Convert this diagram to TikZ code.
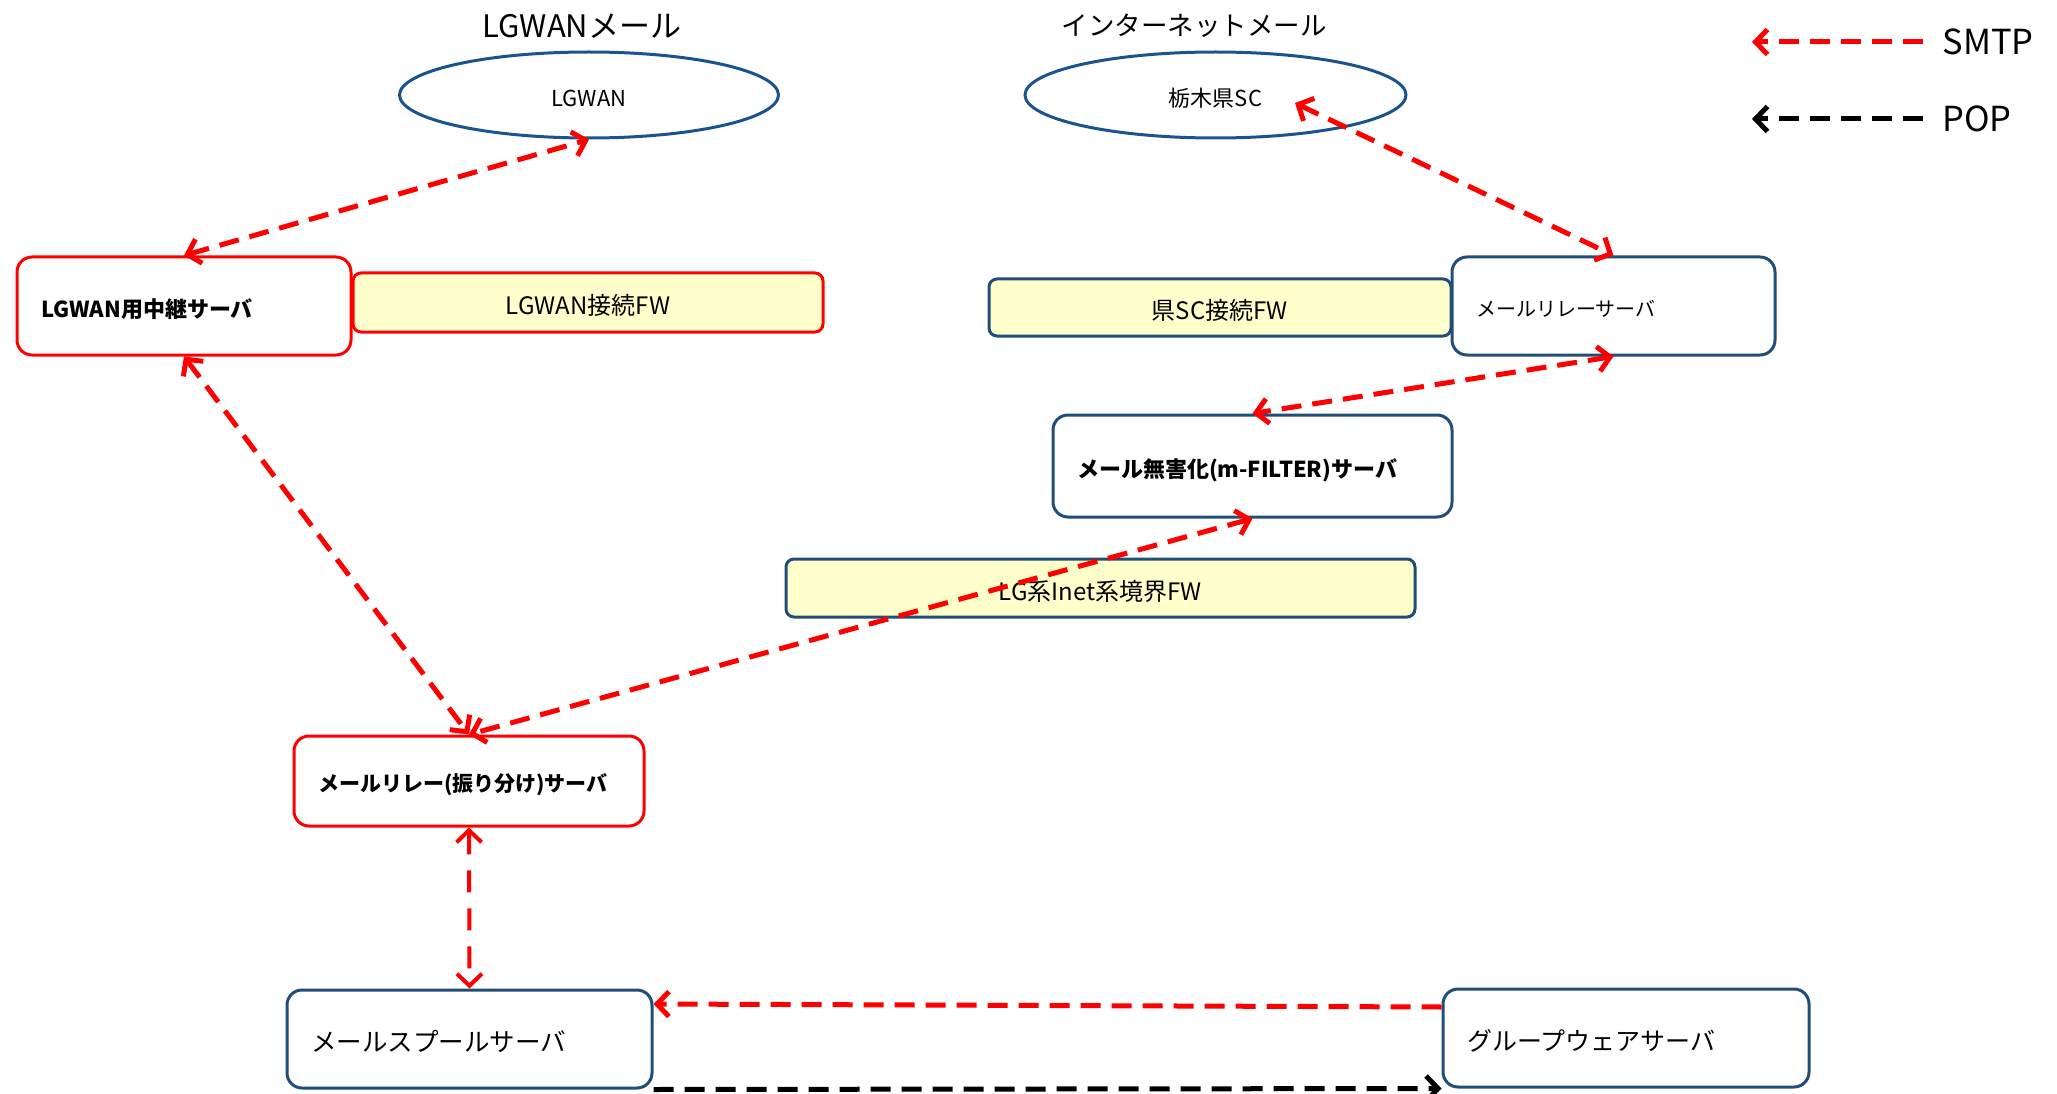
\documentclass[tikz,border=0pt]{standalone}
\usepackage{fontspec}
\setmainfont{Noto Sans CJK JP}
\usetikzlibrary{arrows.meta,calc,shapes.geometric}
\definecolor{srvblue}{RGB}{31,78,121}
\definecolor{netblue}{RGB}{26,84,144}
\definecolor{fwyellow}{RGB}{255,255,204}
\tikzset{
	mtip/.tip={Straight Barb[length=12pt,width=25pt]},
	srv/.style={draw=#1,line width=3pt,rounded corners=15pt,fill=white,inner xsep=24pt,align=left},
	srv/.default=srvblue,
	fw/.style={draw=#1,line width=3pt,rounded corners=8pt,fill=fwyellow,inner sep=0pt},
	net/.style={draw=netblue,ellipse,line width=3pt,minimum width=379pt,minimum height=86pt},
	link/.style={draw=#1,line width=5pt,dash pattern=on 20pt off 11pt},
	link/.default=red,
	fs/.style={font=\fontsize{#1}{#1}\selectfont,text height=#1*0.85pt+6pt,text depth=#1*0.1pt}
}
\begin{document}
\begin{tikzpicture}[x=1pt,y=-1pt]
	\useasboundingbox (0,0) rectangle (2057,1094);
	\node[fs=31] (lgwanttl) at (582,23) {LGWANメール};
	\node[fs=26.5] (inetttl) at (1194,23) {インターネットメール};
	\node[net,fs=22] (lgwan) at (589,95) {LGWAN};
	\node[net,fs=22,minimum width=381pt] (sc) at (1215.5,95) {栃木県SC};
	\node[srv=red,fs=22,text width=286pt,minimum height=98pt] (lgwanrelay) at (184,306) {\bfseries LGWAN用中継サーバ};
	\node[fw=red,fs=24,minimum width=470pt,minimum height=59pt] (lgwanfw) at (588,302.5) {LGWAN接続FW};
	\node[fw=srvblue,fs=24,minimum width=462pt,minimum height=57pt] (scfw) at (1220,307.5) {県SC接続FW};
	\node[srv,fs=20,text width=275pt,minimum height=98pt] (relay) at (1613.5,306) {メールリレーサーバ};
	\node[srv,fs=22,text width=351pt,minimum height=102pt] (mfilter) at (1252.5,466) {\bfseries メール無害化(m-FILTER)サーバ};
	\node[fw=srvblue,fs=24,minimum width=629pt,minimum height=58pt] (inetfw) at (1100.5,588) {LG系Inet系境界FW};
	\node[srv=red,fs=21,text width=302pt,minimum height=90pt] (dist) at (469,781) {\bfseries メールリレー(振り分け)サーバ};
	\node[srv,fs=25.5,text width=317pt,minimum height=98pt] (spool) at (469.5,1039) {メールスプールサーバ};
	\node[srv,fs=25,text width=318pt,minimum height=98pt] (grp) at (1626,1038) {グループウェアサーバ};
	\coordinate (scin) at ($(sc.center)+(79.5,8)$);
	\coordinate (grpin) at ($(grp.west)+(0,-31)$);
	\coordinate (spoolin) at ($(spool.east)+(0,-35)$);
	\draw[link,mtip-mtip] (lgwanrelay.north) -- (lgwan.south);
	\draw[link,mtip-mtip] (scin) -- (relay.north);
	\draw[link,mtip-mtip] (relay.south) -- (mfilter.north);
	\draw[link,mtip-mtip] (mfilter.south) -- (dist.north);
	\draw[link,mtip-mtip] (lgwanrelay.south) -- (dist.north);
	\draw[link,line width=4pt,dash pattern=on 22pt off 16pt,mtip-mtip] (dist.south) -- (spool.north);
	\draw[link,-mtip] (grpin) -- (spoolin);
	\draw[link=black,-mtip] (spool.south east) -- (grp.south west);
	\foreach \n/\c/\y in {SMTP/red/42,POP/black/119}{
		\node[anchor=west,fs=34.5] (\n) at (1939,\y-3) {\n};
		\coordinate (\n tip) at (1752,\y);
		\draw[link=\c,-mtip] ([xshift=-16pt]\n.west |- \n tip) -- (\n tip);
	}
\end{tikzpicture}
\end{document}
